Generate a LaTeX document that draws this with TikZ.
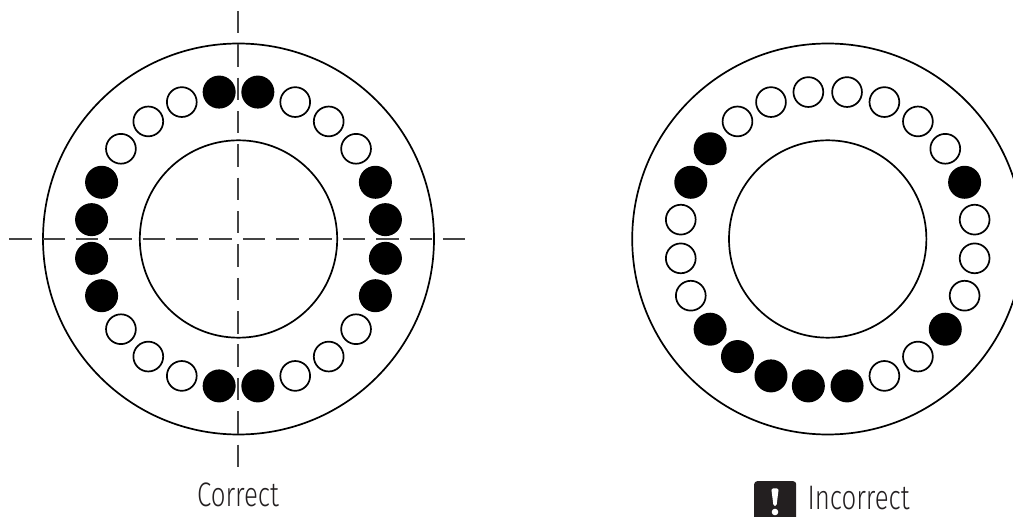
\documentclass[tikz,border=0pt]{standalone}
\usepackage{fontspec}
\usetikzlibrary{calc}
\newfontfamily\lblfont[FakeStretch=0.76]{Fira Sans Light}
\definecolor{axisgray}{HTML}{444444}
\definecolor{inkblack}{HTML}{000000}
\definecolor{icondark}{HTML}{231F20}
\tikzset{
  x=1pt,y=1pt,
  ring/.style={draw=inkblack,line width=1.7pt,fill=none},
  ballopen/.style={circle,draw=inkblack,line width=1.7pt,fill=white,minimum size=29.8pt,inner sep=0pt,outer sep=0pt},
  ballfull/.style={circle,fill=inkblack,minimum size=33pt,inner sep=0pt,outer sep=0pt},
  axisline/.style={draw=axisgray,line width=1.25pt,dash pattern=on 22.4pt off 10.95pt},
  lbl/.style={inner sep=0pt,outer sep=0pt,text=icondark,font=\lblfont\fontsize{34}{34}\selectfont,anchor=base}
}
\begin{document}
\begin{tikzpicture}
\useasboundingbox (0,0) rectangle (1013,517);
\clip (0,0) rectangle (1013,517);
\fill[white] (0,0) rectangle (1013,517);
\coordinate (cl) at (238.5,278);
\coordinate (cr) at (827.7,278);
\coordinate (hs) at (9.3,278);
\coordinate (he) at (466,278);
\coordinate (vs) at (238,506);
\coordinate (ve) at (238,49.3);
\draw[ring] (cl) circle[radius=195.5];
\draw[ring] (cl) circle[radius=98.7];
\draw[ring] (cr) circle[radius=195.5];
\draw[ring] (cr) circle[radius=98.7];
\foreach \a/\k in {7.5/ballfull,22.5/ballfull,37.5/ballopen,52.5/ballopen,67.5/ballopen,82.5/ballfull,97.5/ballfull,112.5/ballopen,127.5/ballopen,142.5/ballopen,157.5/ballfull,172.5/ballfull,187.5/ballfull,202.5/ballfull,217.5/ballopen,232.5/ballopen,247.5/ballopen,262.5/ballfull,277.5/ballfull,292.5/ballopen,307.5/ballopen,322.5/ballopen,337.5/ballfull,352.5/ballfull}{
  \node[\k] (L\a) at ($(cl)+(\a:148.2)$) {};
}
\foreach \a/\k in {7.5/ballopen,22.5/ballfull,37.5/ballopen,52.5/ballopen,67.5/ballopen,82.5/ballopen,97.5/ballopen,112.5/ballopen,127.5/ballopen,142.5/ballfull,157.5/ballfull,172.5/ballopen,187.5/ballopen,202.5/ballopen,217.5/ballfull,232.5/ballfull,247.5/ballfull,262.5/ballfull,277.5/ballfull,292.5/ballopen,307.5/ballopen,322.5/ballfull,337.5/ballopen,352.5/ballopen}{
  \node[\k] (R\a) at ($(cr)+(\a:148.2)$) {};
}
\draw[axisline] (hs) -- (he);
\draw[axisline] (vs) -- (ve);
\node[lbl] (correct) at (238,10.5) {Correct};
\node[lbl,anchor=base west] (incorrect) at (807.5,7.3) {Incorrect};
\node[fill=icondark,rounded corners=3pt,minimum width=42pt,minimum height=50pt,inner sep=0pt,anchor=north west] (icon) at (754,36) {};
\fill[white,rounded corners=1.5pt] (771.3,28.5) -- (778.7,28.5) -- (776.5,11) -- (773.5,11) -- cycle;
\fill[white] (775,5) circle[radius=3.3];
\end{tikzpicture}
\end{document}
